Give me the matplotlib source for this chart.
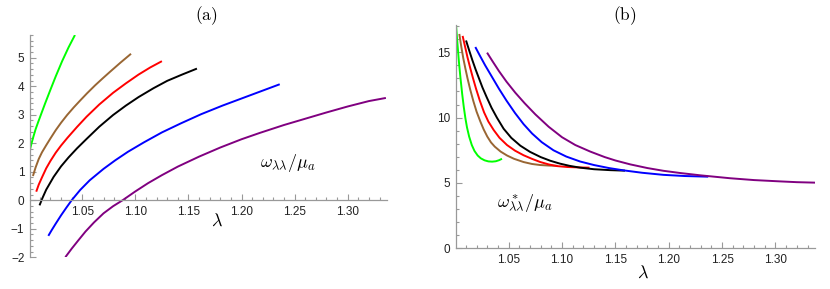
import matplotlib
matplotlib.use("Agg")
import matplotlib.pyplot as plt
from matplotlib.ticker import MultipleLocator, FixedLocator

# ---------------------------------
# Curve data (lambda, value)
# ---------------------------------
# panel (a): omega_ll / mu_a
green_a_lam = [1.0007, 1.002, 1.004, 1.006, 1.0085, 1.011, 1.015, 1.020, 1.025, 1.031, 1.037, 1.0431]
green_a_val = [1.78, 1.97, 2.24, 2.49, 2.75, 3.00, 3.40, 3.88, 4.35, 4.88, 5.36, 5.80]
brown_a_lam = [1.0035, 1.006, 1.009, 1.012, 1.016, 1.020, 1.025, 1.030, 1.0357, 1.042, 1.048,
               1.0544, 1.062, 1.069, 1.0762, 1.086, 1.0959]
brown_a_val = [0.85, 1.15, 1.45, 1.68, 1.93, 2.17, 2.46, 2.72, 2.99, 3.26, 3.50,
               3.75, 4.03, 4.27, 4.51, 4.83, 5.14]
red_a_lam = [1.0066, 1.009, 1.012, 1.016, 1.020, 1.025, 1.030, 1.036, 1.045, 1.054, 1.066,
             1.079, 1.091, 1.103, 1.114, 1.125]
red_a_val = [0.30, 0.55, 0.80, 1.12, 1.38, 1.67, 1.92, 2.19, 2.57, 2.93, 3.36,
             3.77, 4.10, 4.41, 4.66, 4.88]
black_a_lam = [1.0097, 1.0125, 1.016, 1.023, 1.030, 1.037, 1.045, 1.054, 1.066, 1.079, 1.091,
               1.103, 1.117, 1.13, 1.144, 1.158]
black_a_val = [-0.18, 0.08, 0.37, 0.82, 1.19, 1.50, 1.82, 2.15, 2.58, 2.99, 3.32,
               3.62, 3.93, 4.19, 4.41, 4.62]
blue_a_lam = [1.018, 1.021, 1.025, 1.030, 1.035, 1.040, 1.048, 1.057, 1.070, 1.081, 1.093,
              1.108, 1.125, 1.143, 1.162, 1.182, 1.200, 1.218, 1.236]
blue_a_val = [-1.25, -1.06, -0.82, -0.53, -0.26, 0.0, 0.36, 0.70, 1.10, 1.40, 1.70,
              2.03, 2.38, 2.70, 3.02, 3.32, 3.57, 3.82, 4.07]
purple_a_lam = [1.034, 1.040, 1.046, 1.053, 1.061, 1.070, 1.079, 1.088, 1.10, 1.112, 1.125,
                1.14, 1.16, 1.18, 1.20, 1.217, 1.24, 1.26, 1.28, 1.30, 1.32, 1.336]
purple_a_val = [-2.0, -1.70, -1.42, -1.10, -0.78, -0.46, -0.21, 0.0, 0.31, 0.60, 0.88,
                1.18, 1.53, 1.85, 2.14, 2.36, 2.64, 2.86, 3.08, 3.29, 3.48, 3.59]

# panel (b): omega*_ll / mu_a
green_b_lam = [1.0007, 1.002, 1.0034, 1.0048, 1.0065, 1.008, 1.0095, 1.011, 1.013, 1.0155,
               1.018, 1.021, 1.024, 1.0275, 1.031, 1.0345, 1.038, 1.041, 1.0438]
green_b_val = [17.1, 15.7, 14.3, 13.1, 11.8, 10.8, 9.95, 9.25, 8.55, 7.9,
               7.45, 7.1, 6.88, 6.73, 6.65, 6.63, 6.66, 6.74, 6.85]
brown_b_lam = [1.0038, 1.0055, 1.0075, 1.0095, 1.0115, 1.014, 1.017, 1.020, 1.0235, 1.0266,
               1.030, 1.0335, 1.037, 1.0425, 1.0485, 1.055, 1.064, 1.072, 1.0797, 1.088, 1.096]
brown_b_val = [16.4, 15.5, 14.55, 13.75, 13.0, 12.15, 11.25, 10.45, 9.7, 9.1,
               8.55, 8.1, 7.78, 7.4, 7.1, 6.85, 6.6, 6.45, 6.37, 6.33, 6.31]
red_b_lam = [1.0069, 1.009, 1.0115, 1.014, 1.0165, 1.0195, 1.023, 1.027, 1.031, 1.036,
             1.0415, 1.0485, 1.056, 1.064, 1.072, 1.0797, 1.0875, 1.0953, 1.105, 1.115, 1.1258]
red_b_val = [16.25, 15.5, 14.6, 13.8, 13.05, 12.2, 11.3, 10.4, 9.7, 9.05,
             8.45, 7.9, 7.47, 7.12, 6.84, 6.6, 6.42, 6.29, 6.22, 6.19, 6.17]
black_b_lam = [1.0101, 1.013, 1.016, 1.019, 1.022, 1.0255, 1.0295, 1.034, 1.039, 1.0453,
               1.0525, 1.061, 1.070, 1.080, 1.089, 1.098, 1.107, 1.117, 1.13, 1.145, 1.159]
black_b_val = [15.9, 15.15, 14.4, 13.7, 13.05, 12.3, 11.55, 10.75, 10.0, 9.15,
               8.45, 7.85, 7.38, 6.98, 6.70, 6.48, 6.31, 6.17, 6.05, 5.98, 5.94]
blue_b_lam = [1.0188, 1.023, 1.028, 1.0345, 1.041, 1.048, 1.056, 1.064, 1.072, 1.081,
              1.092, 1.104, 1.117, 1.13, 1.144, 1.158, 1.175, 1.195, 1.215, 1.237]
blue_b_val = [15.4, 14.75, 14.0, 13.1, 12.2, 11.3, 10.35, 9.5, 8.78, 8.12,
              7.5, 7.02, 6.64, 6.37, 6.14, 5.96, 5.78, 5.62, 5.53, 5.48]
purple_b_lam = [1.0298, 1.035, 1.041, 1.048, 1.0563, 1.065, 1.075, 1.0875, 1.10, 1.1125,
                1.1265, 1.14, 1.15, 1.164, 1.18, 1.195, 1.2108, 1.23, 1.2576, 1.28,
                1.3042, 1.32, 1.3388]
purple_b_val = [14.97, 14.3, 13.55, 12.75, 11.9, 11.1, 10.25, 9.3, 8.5, 7.9,
                7.4, 6.98, 6.72, 6.42, 6.14, 5.93, 5.76, 5.58, 5.36, 5.22,
                5.12, 5.06, 5.02]

x_ticks = [1.05, 1.10, 1.15, 1.20, 1.25, 1.30]
x_tick_labels = ["1.05", "1.10", "1.15", "1.20", "1.25", "1.30"]

COLORS = {"green": "#00ff00", "brown": "#996633", "red": "#ff0000",
          "black": "#000000", "blue": "#0000ff", "purple": "#800080"}
AXIS_GRAY = "#999999"
TICK_FONT = "Liberation Sans"

plt.rcParams["mathtext.fontset"] = "cm"


def style_axes(ax, ylim, ymajor, yminor, xaxis_at_zero):
    """Mathematica-like axes: gray lines, inward ticks, no box."""
    ax.set_xlim(1.0007, 1.337)
    ax.set_ylim(*ylim)
    for side in ("top", "right"):
        ax.spines[side].set_visible(False)
    if xaxis_at_zero:
        ax.spines["bottom"].set_position(("data", 0))
    for side in ("left", "bottom"):
        ax.spines[side].set_color(AXIS_GRAY)
        ax.spines[side].set_linewidth(0.9)
    ax.xaxis.set_major_locator(FixedLocator(x_ticks))
    ax.set_xticklabels(x_tick_labels)
    ax.xaxis.set_minor_locator(MultipleLocator(0.01))
    ax.yaxis.set_major_locator(MultipleLocator(ymajor))
    ax.yaxis.set_minor_locator(MultipleLocator(yminor))
    ax.tick_params(which="both", direction="in", color=AXIS_GRAY, width=0.8,
                   labelsize=8.5, labelcolor="#222222")
    ax.tick_params(which="major", length=4, pad=4)
    ax.tick_params(which="minor", length=2.2)
    for lab in ax.get_xticklabels() + ax.get_yticklabels():
        lab.set_fontfamily(TICK_FONT)


def draw_curves(ax, curves):
    for lam, val, c in curves:
        ax.plot(lam, val, color=COLORS[c], lw=1.4, solid_joinstyle="round",
                solid_capstyle="butt")


fig = plt.figure(figsize=(8.30, 2.89), dpi=100)

# -----------------------------------------------------
# Panel (a)
# -----------------------------------------------------
ax_a = fig.add_axes([0.0361, 0.110, 0.4301, 0.769])
draw_curves(ax_a, [
    (green_a_lam, green_a_val, "green"),
    (brown_a_lam, brown_a_val, "brown"),
    (red_a_lam, red_a_val, "red"),
    (black_a_lam, black_a_val, "black"),
    (blue_a_lam, blue_a_val, "blue"),
    (purple_a_lam, purple_a_val, "purple"),
])
style_axes(ax_a, (-2.0, 5.8), 1, 0.2, xaxis_at_zero=True)
ax_a.text(1.217, 1.3, r"$\omega_{\lambda\lambda}/\mu_a$", fontsize=13,
          ha="left", va="center")
ax_a.text(1.177, -0.73, r"$\lambda$", fontsize=13, ha="center", va="center")
fig.text(0.249, 0.945, r"$\mathrm{(a)}$", fontsize=12.5, ha="center", va="center")

# -----------------------------------------------------
# Panel (b)
# -----------------------------------------------------
ax_b = fig.add_axes([0.5494, 0.1408, 0.4325, 0.7734])
draw_curves(ax_b, [
    (green_b_lam, green_b_val, "green"),
    (brown_b_lam, brown_b_val, "brown"),
    (red_b_lam, red_b_val, "red"),
    (black_b_lam, black_b_val, "black"),
    (blue_b_lam, blue_b_val, "blue"),
    (purple_b_lam, purple_b_val, "purple"),
])
style_axes(ax_b, (0, 17.1), 5, 1, xaxis_at_zero=False)
ax_b.text(1.039, 3.47, r"$\omega^*_{\lambda\lambda}/\mu_a$", fontsize=13,
          ha="left", va="center")
ax_b.text(1.176, -1.89, r"$\lambda$", fontsize=13, ha="center", va="center",
          clip_on=False)
fig.text(0.753, 0.945, r"$\mathrm{(b)}$", fontsize=12.5, ha="center", va="center")

fig.savefig("out.png", dpi=100)
